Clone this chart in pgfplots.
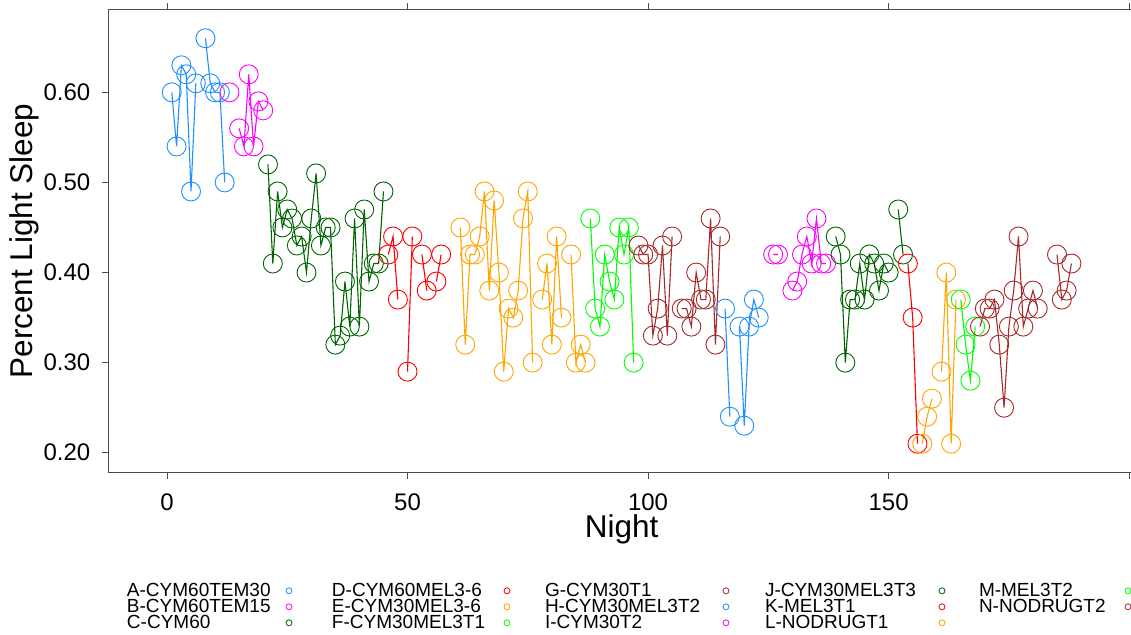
\documentclass[border=0pt]{standalone}
\usepackage{fontspec}
\setmainfont{Liberation Sans}
\usepackage{pgfplots}
\pgfplotsset{compat=1.18}
\definecolor{cA}{HTML}{1E90FF}
\definecolor{cB}{HTML}{FF00FF}
\definecolor{cC}{HTML}{006400}
\definecolor{cD}{HTML}{FF0000}
\definecolor{cE}{HTML}{FFA500}
\definecolor{cF}{HTML}{00FF00}
\definecolor{cG}{HTML}{A52A2A}
\pgfplotsset{ser/.style={line width=1.1pt, mark=o, mark size=9.5pt, mark options={solid, line width=0.9pt}, forget plot},
  lg/.style={only marks, mark=o, mark size=3pt, mark options={line width=0.8pt}, color=#1}}
\begin{document}
\begin{tikzpicture}[x=1pt,y=1pt]
\begin{axis}[
 at={(0,0)}, anchor=south west,
 scale only axis, width=1025.6pt, height=462.2pt,
 xmin=-12.09, xmax=201.09, ymin=0.1785, ymax=0.6915,
 xtick={0,50,100,150,200}, xticklabels={0,50,100,150,},
 ytick={0.2,0.3,0.4,0.5,0.6},
 /pgf/number format/assume math mode=true,
 y tick label style={/pgf/number format/fixed, /pgf/number format/fixed zerofill, /pgf/number format/precision=2},
 tick align=outside, tick pos=both, xticklabel pos=lower, yticklabel pos=left,
 major tick length=6.5pt,
 axis line style={black!70, line width=0.8pt},
 every tick/.style={black!70, line width=0.8pt},
 tick label style={font=\fontsize{24}{24}\selectfont, text=black},
 xticklabel style={anchor=north, inner sep=0pt, yshift=-14.5pt},
 yticklabel style={anchor=east, inner sep=0pt, xshift=-11.8pt},
 xlabel={Night}, ylabel={Percent Light Sleep},
 every axis x label/.style={at={(axis description cs:0.5,0)}, anchor=base, yshift=-65.5pt, font=\fontsize{31.5}{31.5}\selectfont},
 every axis y label/.style={at={(axis description cs:0,0.5)}, xshift=-76.3pt, rotate=90, anchor=base, font=\fontsize{31.5}{31.5}\selectfont},
 unbounded coords=jump,
 legend plot pos=right, legend columns=5, legend cell align=left,
 legend image code/.code={\draw[#1] plot coordinates {(0pt,0pt)};},
 legend style={draw=none, fill=none, inner sep=0pt, outer sep=0pt, column sep=0pt, row sep=0pt,
   at={(axis description cs:0.01775,-0.2395)}, anchor=north west,
   font=\fontsize{19}{19}\selectfont,
   nodes={inner sep=0pt, text height=14pt, text depth=2pt}},
]
\addplot[ser, color=cA] coordinates {(1,0.60)(2,0.54)(3,0.63)(4,0.62)(5,0.49)(6,0.61)(7,nan)(8,0.66)(9,0.61)(10,0.60)(11,0.60)(12,0.50)};
\addplot[ser, color=cB] coordinates {(13,0.60)(14,nan)(15,0.56)(16,0.54)(17,0.62)(18,0.54)(19,0.59)(20,0.58)};
\addplot[ser, color=cC] coordinates {(21,0.52)(22,0.41)(23,0.49)(24,0.45)(25,0.47)(26,0.46)(27,0.43)(28,0.44)(29,0.40)(30,0.46)(31,0.51)(32,0.43)(33,0.45)(34,0.45)(35,0.32)(36,0.33)(37,0.39)(38,0.34)(39,0.46)(40,0.34)(41,0.47)(42,0.39)(43,0.41)(44,0.41)(45,0.49)};
\addplot[ser, color=cD] coordinates {(46,0.42)(47,0.44)(48,0.37)(49,nan)(50,0.29)(51,0.44)(52,nan)(53,0.42)(54,0.38)(55,nan)(56,0.39)(57,0.42)};
\addplot[ser, color=cE] coordinates {(61,0.45)(62,0.32)(63,0.42)(64,0.42)(65,0.44)(66,0.49)(67,0.38)(68,0.48)(69,0.40)(70,0.29)(71,0.36)(72,0.35)(73,0.38)(74,0.46)(75,0.49)(76,0.30)(77,nan)(78,0.37)(79,0.41)(80,0.32)(81,0.44)(82,0.35)(83,nan)(84,0.42)(85,0.30)(86,0.32)(87,0.30)};
\addplot[ser, color=cF] coordinates {(88,0.46)(89,0.36)(90,0.34)(91,0.42)(92,0.39)(93,0.37)(94,0.45)(95,0.42)(96,0.45)(97,0.30)};
\addplot[ser, color=cG] coordinates {(98,0.43)(99,0.42)(100,0.42)(101,0.33)(102,0.36)(103,0.43)(104,0.33)(105,0.44)(106,nan)(107,0.36)(108,0.36)(109,0.34)(110,0.40)(111,0.37)(112,0.37)(113,0.46)(114,0.32)(115,0.44)};
\addplot[ser, color=cA] coordinates {(116,0.36)(117,0.24)(118,nan)(119,0.34)(120,0.23)(121,0.34)(122,0.37)(123,0.35)};
\addplot[ser, color=cB] coordinates {(126,0.42)(127,0.42)(128,nan)(130,0.38)(131,0.39)(132,0.42)(133,0.44)(134,0.41)(135,0.46)(136,0.41)(137,0.41)};
\addplot[ser, color=cC] coordinates {(139,0.44)(140,0.42)(141,0.30)(142,0.37)(143,0.37)(144,0.41)(145,0.37)(146,0.42)(147,0.41)(148,0.38)(149,0.41)(150,0.40)(151,nan)(152,0.47)(153,0.42)};
\addplot[ser, color=cD] coordinates {(154,0.41)(155,0.35)(156,0.21)};
\addplot[ser, color=cE] coordinates {(157,0.21)(158,0.24)(159,0.26)(160,nan)(161,0.29)(162,0.40)(163,0.21)(164,0.37)};
\addplot[ser, color=cF] coordinates {(165,0.37)(166,0.32)(167,0.28)(168,0.34)};
\addplot[ser, color=cG] coordinates {(169,0.34)(170,0.36)(171,0.36)(172,0.37)(173,0.32)(174,0.25)(175,0.34)(176,0.38)(177,0.44)(178,0.34)(179,0.36)(180,0.38)(181,0.36)(182,nan)(185,0.42)(186,0.37)(187,0.38)(188,0.41)};
% legend, row-major
\addlegendimage{lg=cA}\addlegendentry{\makebox[159pt][l]{A-CYM60TEM30}}
\addlegendimage{lg=cD}\addlegendentry{\hspace*{40pt}\makebox[172pt][l]{D-CYM60MEL3-6}}
\addlegendimage{lg=cG}\addlegendentry{\hspace*{35pt}\makebox[178pt][l]{G-CYM30T1}}
\addlegendimage{lg=cC}\addlegendentry{\hspace*{36pt}\makebox[174pt][l]{J-CYM30MEL3T3}}
\addlegendimage{lg=cF}\addlegendentry{\hspace*{34pt}\makebox[146pt][l]{M-MEL3T2}}
\addlegendimage{lg=cB}\addlegendentry{\makebox[159pt][l]{B-CYM60TEM15}}
\addlegendimage{lg=cE}\addlegendentry{\hspace*{40pt}\makebox[172pt][l]{E-CYM30MEL3-6}}
\addlegendimage{lg=cA}\addlegendentry{\hspace*{35pt}\makebox[178pt][l]{H-CYM30MEL3T2}}
\addlegendimage{lg=cD}\addlegendentry{\hspace*{36pt}\makebox[174pt][l]{K-MEL3T1}}
\addlegendimage{lg=cG}\addlegendentry{\hspace*{34pt}\makebox[146pt][l]{N-NODRUGT2}}
\addlegendimage{lg=cC}\addlegendentry{\makebox[159pt][l]{C-CYM60}}
\addlegendimage{lg=cF}\addlegendentry{\hspace*{40pt}\makebox[172pt][l]{F-CYM30MEL3T1}}
\addlegendimage{lg=cB}\addlegendentry{\hspace*{35pt}\makebox[178pt][l]{I-CYM30T2}}
\addlegendimage{lg=cE}\addlegendentry{\hspace*{36pt}\makebox[174pt][l]{L-NODRUGT1}}
\end{axis}
\pgfresetboundingbox
\useasboundingbox (-108.8pt,-161.9pt) rectangle (1022.2pt,472.1pt);
\end{tikzpicture}
\end{document}
